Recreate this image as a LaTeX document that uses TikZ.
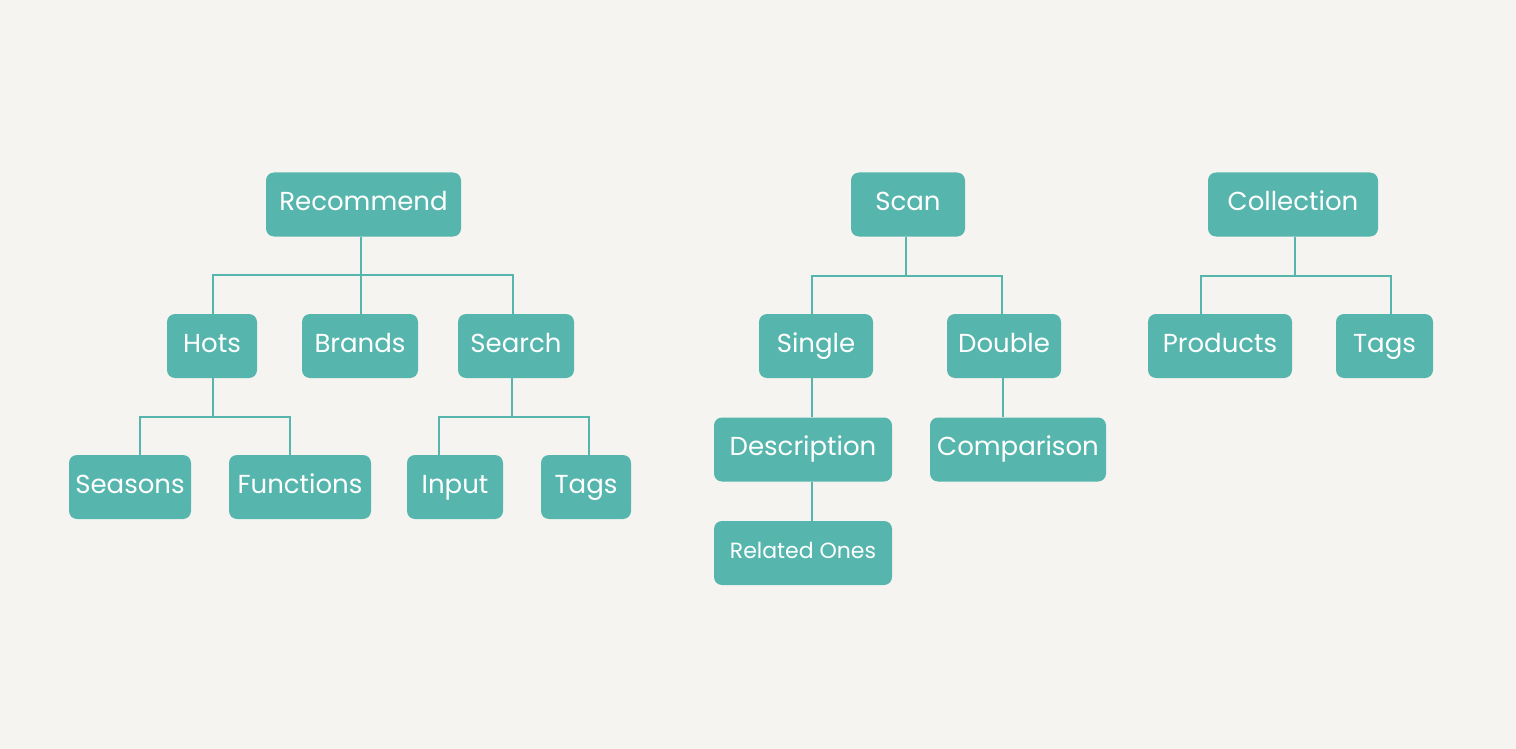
\documentclass[tikz,border=0pt]{standalone}
\usepackage{fontspec}
\setmainfont{Poppins}
\usepackage[HTML]{xcolor}
\usepackage{tikz}
\definecolor{boxteal}{HTML}{56B6AD}
\definecolor{paper}{HTML}{F5F4F0}

\tikzset{
  box/.style={fill=boxteal, rounded corners=8, text=white, minimum height=64, inner sep=0,
    text height=18, text depth=6, font=\fontsize{26}{30}\selectfont},
  link/.style={draw=boxteal, line width=2},
}

\begin{document}
\begin{tikzpicture}[x=1pt,y=-1pt]
\fill[paper] (0,0) rectangle (1516,749);
\useasboundingbox (0,0) rectangle (1516,749);
% top level
\node[box,minimum width=195] (recommend) at (363.5,204.5) {Recommend};
\node[box,minimum width=114] (scan) at (908,204.5) {Scan};
\node[box,minimum width=170] (collection) at (1293,204.5) {Collection};
% second level
\node[box,minimum width=90] (hots) at (212,346) {Hots};
\node[box,minimum width=116] (brands) at (360,346) {Brands};
\node[box,minimum width=116] (search) at (516,346) {Search};
\node[box,minimum width=114] (single) at (816,346) {Single};
\node[box,minimum width=114] (double) at (1004,346) {Double};
\node[box,minimum width=144] (products) at (1220,346) {Products};
\node[box,minimum width=97] (tagsC) at (1384.5,346) {Tags};
% third level
\node[box,minimum width=122] (seasons) at (130,487) {Seasons};
\node[box,minimum width=142] (functions) at (300,487) {Functions};
\node[box,minimum width=96] (input) at (455,487) {Input};
\node[box,minimum width=90] (tagsS) at (586,487) {Tags};
\node[box,minimum width=178] (description) at (803,449.5) {Description};
\node[box,minimum width=176] (comparison) at (1018,449.5) {Comparison};
\node[box,minimum width=178,text height=15,text depth=5,font=\fontsize{22}{26}\selectfont] (related) at (803,553) {Related Ones};
% links
\draw[link] ([xshift=-2.5]recommend.south) -- ++(0,38) -| ([xshift=1]hots.north);
\draw[link] ([xshift=-2.5]recommend.south) -- ++(0,38) -| ([xshift=-3]search.north);
\draw[link] ([xshift=-2.5]recommend.south) -- ([xshift=1]brands.north);
\draw[link] ([xshift=1]hots.south) -- ++(0,39) -| ([xshift=10]seasons.north);
\draw[link] ([xshift=1]hots.south) -- ++(0,39) -| ([xshift=-10]functions.north);
\draw[link] ([xshift=-4]search.south) -- ++(0,39) -| ([xshift=-16]input.north);
\draw[link] ([xshift=-4]search.south) -- ++(0,39) -| ([xshift=3]tagsS.north);
\draw[link] ([xshift=-2]scan.south) -- ++(0,39) -| ([xshift=-4]single.north);
\draw[link] ([xshift=-2]scan.south) -- ++(0,39) -| ([xshift=-2]double.north);
\draw[link] ([xshift=-4]single.south) -- ([xshift=9]description.north);
\draw[link] ([xshift=9]description.south) -- ([xshift=9]related.north);
\draw[link] ([xshift=-1]double.south) -- ([xshift=-15]comparison.north);
\draw[link] ([xshift=2]collection.south) -- ++(0,39) -| ([xshift=-19]products.north);
\draw[link] ([xshift=2]collection.south) -- ++(0,39) -| ([xshift=6.5]tagsC.north);
\end{tikzpicture}
\end{document}
